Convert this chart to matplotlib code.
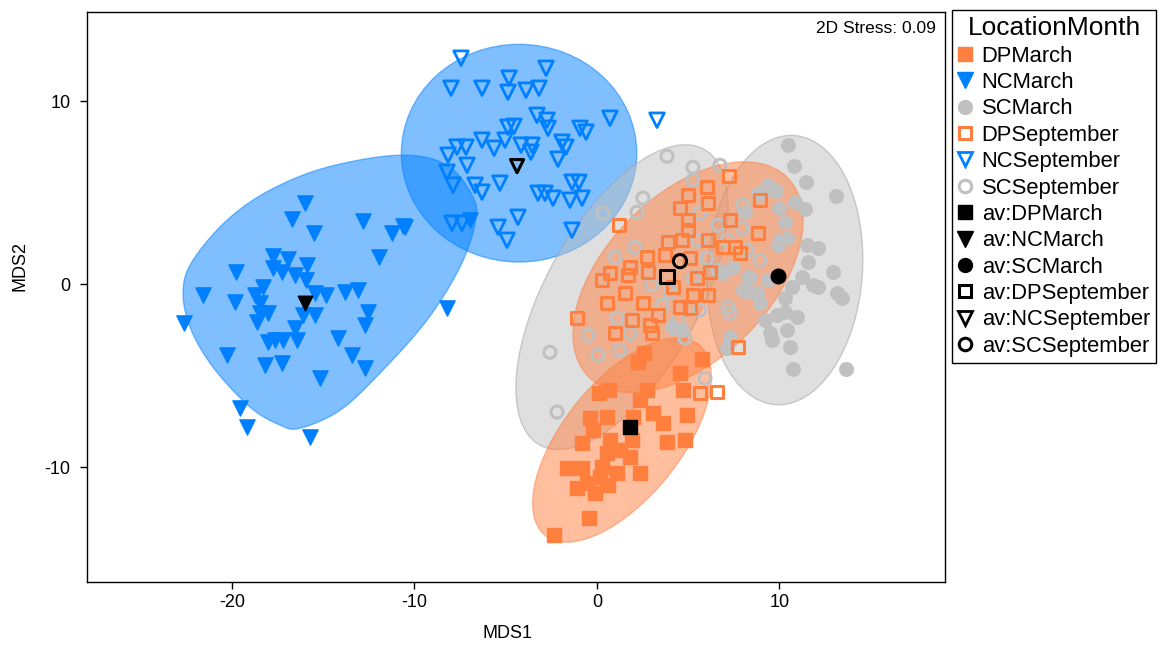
import numpy as np
import matplotlib
matplotlib.use('Agg')
import matplotlib.pyplot as plt
from matplotlib.patches import Ellipse, Polygon
from matplotlib.lines import Line2D

plt.rcParams['font.family'] = ['Liberation Sans', 'DejaVu Sans']
plt.rcParams['axes.unicode_minus'] = False

################################################################################
# data
dp_march_x = [2.58, 2.25, 5.75, 4.55, 4.71, 4.93, 4.82, 3.84, 0.11, 0.66, 2.74, 2.36, 1.97, 3.07,
              3.62, -0.38, 0.55, -0.22, -0.82, 0.71, 1.92, 1.26, 0.55, 1.81, -1.64, -0.82, 0.27,
              1.10, 2.36, -1.10, -0.55, -0.11, 0.60, 0.16, -0.44, -2.36]
dp_march_y = [-3.77, -4.26, -4.10, -4.86, -5.79, -7.16, -8.52, -8.63, -5.96, -5.79, -5.79, -6.34,
              -7.27, -7.05, -7.60, -7.32, -7.27, -7.98, -8.69, -8.52, -8.52, -9.07, -9.23, -9.45,
              -10.05, -10.05, -10.00, -10.33, -10.33, -11.15, -10.87, -11.42, -10.98, -10.55,
              -12.79, -13.72]

nc_march_x = [-16.00, -16.71, -15.51, -12.82, -11.23, -10.63, -11.95, -17.75, -16.93, -15.89,
              -17.75, -17.26, -16.55, -15.95, -19.78, -21.59, -19.84, -18.74, -18.30, -18.47,
              -18.47, -18.63, -18.03, -15.45, -14.85, -13.81, -13.10, -12.55, -12.71, -16.11,
              -15.45, -16.55, -16.44, -17.21, -17.64, -18.03, -14.19, -13.42, -12.71, -15.18,
              -17.26, -18.19, -20.27, -22.63, -8.22, -19.56, -19.18, -15.73, -6.96, -10.52]
nc_march_y = [4.43, 3.55, 2.79, 3.44, 2.79, 3.17, 1.48, 1.53, 1.37, 1.04, 0.87, 0.66, 0.49, 0.22,
              0.66, -0.60, -0.98, -0.60, -0.16, -1.04, -1.58, -2.08, -1.58, -0.49, -0.60, -0.44,
              -0.33, -1.53, -2.24, -1.69, -1.69, -2.40, -3.06, -3.06, -3.06, -3.17, -2.95, -3.88,
              -4.59, -5.14, -4.32, -4.43, -3.88, -2.13, -1.31, -6.78, -7.81, -8.36, 3.50, 3.11]

sc_march_x = [10.47, 10.79, 11.45, 13.10, 10.85, 11.40, 9.81, 9.37, 8.82, 9.97, 10.30, 8.11, 10.41,
              9.92, 11.51, 12.11, 11.56, 12.93, 11.23, 11.84, 12.11, 13.15, 13.42, 8.27, 8.27, 8.77,
              9.37, 10.68, 10.30, 8.93, 10.30, 10.96, 9.86, 9.21, 9.48, 10.41, 9.59, 10.58, 7.12,
              10.74, 13.64, 6.90, 10.03, 7.45, 8.38, 8.00, 7.29, 4.66, 4.16]
sc_march_y = [7.60, 6.45, 5.57, 4.81, 4.48, 4.10, 5.08, 5.41, 4.97, 4.15, 3.39, 3.93, 2.51, 2.13,
              2.13, 1.97, 1.20, 0.66, 0.38, -0.05, -0.16, -0.49, -0.77, 0.38, -0.44, -0.49, 0.22,
              -0.16, -0.77, -1.04, -1.53, -1.80, -1.69, -1.97, -2.68, -2.51, -3.06, -3.44, -3.50,
              -4.64, -4.64, 0.60, 2.40, 0.93, 0.38, -0.33, -2.90, -2.51, -2.40]

dp_sept_x = [7.23, 6.03, 4.99, 6.08, 4.55, 8.93, 1.21, 4.99, 4.99, 7.29, 8.82, 6.08, 6.90, 7.56,
             7.84, 3.89, 4.66, 2.74, 3.73, 5.10, 0.27, 0.71, 1.81, 1.70, 2.79, 4.16, 5.48, 6.19,
             1.53, 0.55, 2.52, 3.34, 4.55, 5.10, 5.26, 6.08, -1.10, 1.92, 2.90, 0.99, 3.01, 7.73,
             5.64, 6.58]
dp_sept_y = [5.90, 5.30, 4.86, 4.43, 4.15, 4.59, 3.22, 3.50, 2.95, 3.50, 2.79, 2.40, 2.02, 2.02,
             1.69, 2.30, 2.40, 1.48, 1.58, 1.42, 0.22, 0.60, 0.93, 0.49, 0.66, -0.16, 0.33, 0.66,
             -0.49, -1.04, -1.04, -1.69, -1.26, -1.31, -0.60, -0.60, -1.86, -1.97, -2.24, -2.68,
             -2.68, -3.44, -5.96, -5.90]

nc_sept_x = [-7.45, -2.79, -8.00, -6.30, -4.82, -4.88, -3.89, -3.18, -3.29, -2.74, -2.68, 0.71,
             3.29, -0.93, -0.60, -4.88, -4.55, -6.30, -5.64, -5.04, -4.16, -3.56, -3.62, -1.92,
             -1.70, -2.14, -7.67, -7.18, -8.16, -7.12, -8.22, -7.89, -6.68, -6.30, -5.32, -3.23,
             -2.85, -2.41, -1.37, -0.99, -1.48, -0.82, -4.33, -5.42, -4.93, -1.37, -7.95, -7.40]
nc_sept_y = [12.35, 11.80, 10.71, 10.71, 11.26, 10.49, 10.60, 10.71, 9.23, 8.96, 8.52, 9.07, 8.96,
             8.52, 8.31, 8.58, 8.63, 7.87, 7.43, 7.87, 7.60, 7.60, 7.21, 7.76, 7.49, 6.83, 7.49,
             7.49, 7.05, 6.50, 6.12, 5.41, 5.41, 5.03, 5.52, 4.97, 4.97, 4.70, 5.57, 5.57, 4.59,
             4.70, 3.66, 3.11, 2.40, 2.95, 3.33, 3.33]

sc_sept_x = [3.84, 5.26, 6.74, 5.26, 2.52, 2.19, 0.33, 0.99, 2.08, -2.58, -2.19, -0.49, 0.05, 1.26,
             1.10, 1.81, 3.01, 4.00, 3.56, 4.16, 4.82, 4.44, 5.64, 7.18, 7.29, 5.92, 5.26, 6.03,
             6.63, 5.53, 6.63, 7.95, 7.12, 8.93, 8.22, 5.64, 8.00, 9.10]
sc_sept_y = [6.99, 6.39, 6.50, 5.68, 4.70, 3.93, 3.88, 1.48, 2.02, -3.72, -6.99, -2.79, -3.88,
             -3.61, -1.86, -2.68, -0.05, -0.44, -1.15, -2.35, -2.95, -1.97, -1.42, -1.26, -1.58,
             -5.14, 0.33, 1.42, 0.77, 2.40, 3.22, 3.06, 2.40, 1.31, 1.86, 3.88, 4.32, 4.97]

# group averages
avg_labels = ['av:DPMarch', 'av:NCMarch', 'av:SCMarch', 'av:DPSeptember', 'av:NCSeptember', 'av:SCSeptember']
avg_x = [1.81, -16.00, 9.92, 3.84, -4.38, 4.55]
avg_y = [-7.81, -1.04, 0.44, 0.44, 6.45, 1.26]

# outline of the NC March bubble
nc_march_hull_x = [-22.68, -22.14, -20.27, -17.92, -14.79, -10.79, -8.22, -6.79, -6.68, -7.51,
                   -9.32, -11.89, -14.08, -16.27, -17.37, -19.01, -21.04, -22.30]
nc_march_hull_y = [-0.33, 1.31, 3.50, 5.14, 6.39, 7.05, 6.50, 4.75, 3.33, 0.93, -1.97, -4.86,
                   -6.89, -7.87, -7.70, -6.72, -4.54, -2.35]

################################################################################
ORANGE = '#FF7F3F'
BLUE = '#0080FF'
GRAY = '#C0C0C0'


def smooth_closed(px, py, n=24):
    pts = np.column_stack([px, py])
    m = len(pts)
    out = []
    for i in range(m):
        p0, p1, p2, p3 = pts[i - 1], pts[i], pts[(i + 1) % m], pts[(i + 2) % m]
        for t in np.linspace(0, 1, n, endpoint=False):
            t2 = t * t
            t3 = t2 * t
            out.append(0.5 * (2 * p1 + (-p0 + p2) * t + (2 * p0 - 5 * p1 + 4 * p2 - p3) * t2
                              + (-p0 + 3 * p1 - 3 * p2 + p3) * t3))
    return np.array(out)


fig = plt.figure(figsize=(11.61, 6.46), dpi=100)
ax = fig.add_axes([0.0749, 0.099, 0.739, 0.882])

# ellipses / bubbles
ax.add_patch(Polygon(smooth_closed(nc_march_hull_x, nc_march_hull_y), closed=True,
                     facecolor=BLUE, alpha=0.5, edgecolor=BLUE, lw=1, zorder=1))
ax.add_patch(Ellipse((-4.27, 7.16), 12.9, 11.9, angle=0, facecolor=BLUE, alpha=0.5,
                     edgecolor=BLUE, lw=1, zorder=1))
ax.add_patch(Ellipse((1.37, -0.71), 18.5, 8.4, angle=60.8, facecolor=GRAY, alpha=0.5,
                     edgecolor='#A0A0A0', lw=1, zorder=1))
ax.add_patch(Ellipse((10.3, 0.77), 8.5, 14.75, angle=-4, facecolor=GRAY, alpha=0.5,
                     edgecolor='#A0A0A0', lw=1, zorder=1))
ax.add_patch(Ellipse((4.99, 0.38), 15.4, 9.0, angle=45, facecolor=ORANGE, alpha=0.5,
                     edgecolor=ORANGE, lw=1, zorder=1))
ax.add_patch(Ellipse((1.37, -8.52), 13.4, 6.4, angle=51, facecolor=ORANGE, alpha=0.5,
                     edgecolor=ORANGE, lw=1, zorder=1))

# points
ax.scatter(sc_march_x, sc_march_y, marker='o', s=95, color=GRAY, zorder=2)
ax.scatter(sc_sept_x, sc_sept_y, marker='o', s=75, facecolors='none', edgecolors=GRAY, linewidths=2.2, zorder=2)
ax.scatter(nc_march_x, nc_march_y, marker='v', s=120, color=BLUE, zorder=3)
ax.scatter(nc_sept_x, nc_sept_y, marker='v', s=110, facecolors='none', edgecolors=BLUE, linewidths=2, zorder=3)
ax.scatter(dp_march_x, dp_march_y, marker='s', s=95, color=ORANGE, zorder=3)
ax.scatter(dp_sept_x, dp_sept_y, marker='s', s=80, facecolors='none', edgecolors=ORANGE, linewidths=2.2, zorder=3)

avg_marker = ['s', 'v', 'o', 's', 'v', 'o']
avg_filled = [True, True, True, False, False, False]
for i in range(len(avg_x)):
    if avg_filled[i]:
        ax.scatter(avg_x[i], avg_y[i], marker=avg_marker[i], s=110, color='black', zorder=4)
    else:
        ax.scatter(avg_x[i], avg_y[i], marker=avg_marker[i], s=90, facecolors='none',
                   edgecolors='black', linewidths=2.2, zorder=4)

ax.set_xlim(-27.95, 19.07)
ax.set_ylim(-16.28, 14.86)
ax.set_xticks([-20, -10, 0, 10])
ax.set_yticks([-10, 0, 10])
ax.tick_params(labelsize=13, length=5, width=1, direction='out')
ax.tick_params(axis='y', pad=7)
ax.set_xlabel('MDS1', fontsize=13, labelpad=10)
ax.set_ylabel('MDS2', fontsize=13, labelpad=10)
ax.xaxis.set_label_coords(0.49, -0.075)
ax.yaxis.set_label_coords(-0.068, 0.555)
for sp in ax.spines.values():
    sp.set_linewidth(1)
ax.text(0.99, 0.985, '2D Stress: 0.09', transform=ax.transAxes, ha='right', va='top', fontsize=12.5)

# legend
group_labels = ['DPMarch', 'NCMarch', 'SCMarch', 'DPSeptember', 'NCSeptember', 'SCSeptember']
handles = [
    Line2D([], [], ls='None', marker='s', ms=10, color=ORANGE),
    Line2D([], [], ls='None', marker='v', ms=11, color=BLUE),
    Line2D([], [], ls='None', marker='o', ms=10, color=GRAY),
    Line2D([], [], ls='None', marker='s', ms=9, mfc='none', mec=ORANGE, mew=2.2),
    Line2D([], [], ls='None', marker='v', ms=10, mfc='none', mec=BLUE, mew=2),
    Line2D([], [], ls='None', marker='o', ms=9, mfc='none', mec=GRAY, mew=2.2),
    Line2D([], [], ls='None', marker='s', ms=10, color='black'),
    Line2D([], [], ls='None', marker='v', ms=11, color='black'),
    Line2D([], [], ls='None', marker='o', ms=10, color='black'),
    Line2D([], [], ls='None', marker='s', ms=9, mfc='none', mec='black', mew=2.2),
    Line2D([], [], ls='None', marker='v', ms=10, mfc='none', mec='black', mew=2),
    Line2D([], [], ls='None', marker='o', ms=9, mfc='none', mec='black', mew=2.2),
]
leg = fig.legend(handles, group_labels + avg_labels, title='LocationMonth', loc='upper left',
                 bbox_to_anchor=(0.820, 0.985), borderaxespad=0, fontsize=15.8, title_fontsize=19,
                 frameon=True, fancybox=False, edgecolor='black', framealpha=1,
                 handlelength=0.6, handletextpad=0.45, labelspacing=0.245, borderpad=0.3)
leg.get_frame().set_linewidth(1)

fig.savefig('out.png', dpi=100)
